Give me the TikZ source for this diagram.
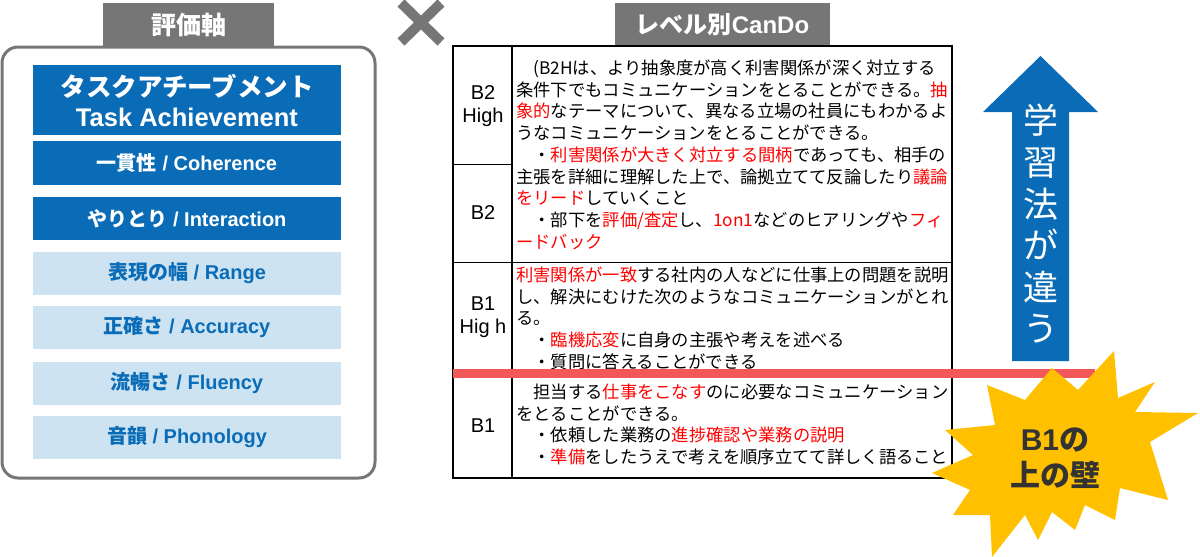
\documentclass[tikz,border=0pt]{standalone}
\usepackage{fontspec}
\setmainfont{Liberation Sans}
\newfontfamily\jp{Noto Sans CJK JP}

\definecolor{hdrgray}{RGB}{118,118,118}
\definecolor{axisblue}{RGB}{10,108,182}
\definecolor{axislight}{RGB}{205,227,242}
\definecolor{wallred}{RGB}{242,88,90}
\definecolor{burstyellow}{RGB}{255,192,0}
\definecolor{walltext}{RGB}{51,51,51}
\newcommand{\hl}[1]{\textcolor{red}{#1}}

\begin{document}
\begin{tikzpicture}[x=1pt,y=-1pt,
    header/.style={fill=hdrgray,text=white,inner sep=0,minimum height=44pt},
    axisdark/.style={fill=axisblue,text=white,font=\bfseries\fontsize{20}{24}\selectfont,minimum width=308pt,inner sep=0},
    axislite/.style={axisdark,fill=axislight,text=axisblue},
    level/.style={font=\fontsize{20}{23}\selectfont,align=center,inner sep=0},
    cando/.style={font=\jp\fontsize{17.3}{21.7}\selectfont,text width=445pt,align=left,inner sep=0,anchor=base west}]
        	\useasboundingbox (0,0) rectangle (1200,557);
        	% Evaluation axes:
        	\draw[hdrgray,line width=3pt,rounded corners=16pt] (2,47) rectangle (375,478);
        	\node[header,minimum width=171pt,font=\jp\bfseries\fontsize{25}{30}\selectfont] (axishdr) at (188.5,25) {評価軸};
        	\node[axisdark,minimum height=70pt,font=\bfseries\fontsize{25.5}{30}\selectfont,align=center] (task) at (187,100) {{\jp タスクアチーブメント}\\Task Achievement};
        	\node[axisdark,minimum height=44pt] (coherence) at (187,163) {{\jp 一貫性} / Coherence};
        	\node[axisdark,minimum height=43pt] (interaction) at (187,218.5) {{\jp やりとり} / Interaction};
        	\foreach \y/\jtxt/\etxt/\nm in {273.5/表現の幅/Range/range, 327.5/正確さ/Accuracy/accuracy, 383/流暢さ/Fluency/fluency, 437/音韻/Phonology/phonology}
        		\node[axislite,minimum height=43pt] (\nm) at (187,\y) {{\jp \jtxt} / \etxt};
        	\draw[hdrgray,line width=10pt] (401,3) -- (441,42) (441,3) -- (401,42);
        	% CanDo table:
        	\node[header,minimum width=215pt,minimum height=43pt,font=\bfseries\fontsize{24}{28}\selectfont] (candohdr) at (722.5,24.5) {{\jp レベル別}CanDo};
        	\draw[line width=1.3pt] (453,46) rectangle (952,478);
        	\draw[line width=1.3pt] (512,46) -- (512,478);
        	\draw[line width=1pt] (453,164) -- (512,164);
        	\draw[line width=1pt] (453,262) -- (952,262);
        	\draw[line width=1pt] (453,373) -- (952,373);
        	\node[level] (b2h) at (483,106) {B2\\High};
        	\node[level] (b2) at (483,213) {B2};
        	\node[level] (b1h) at (483,317) {B1\\Hig h};
        	\node[level] (b1) at (483,426) {B1};
        	\node[cando] (b2text) at (516,74.5) {　(B2Hは、より抽象度が高く利害関係が深く対立する\\
        		条件下でもコミュニケーションをとることができる。\hl{抽}\\
        		\hl{象的}なテーマについて、異なる立場の社員にもわかるよ\\
        		うなコミュニケーションをとることができる。\\
        		　・\hl{利害関係が大きく対立する間柄}であっても、相手の\\
        		主張を詳細に理解した上で、論拠立てて反論したり\hl{議論}\\
        		\hl{をリード}していくこと\\
        		　・部下を\hl{評価/査定}し、\hl{1on1}などのヒアリングや\hl{フィ}\\
        		\hl{ードバック}};
        	\node[cando] (b1htext) at (516,281.5) {\hl{利害関係が一致}する社内の人などに仕事上の問題を説明\\
        		し、解決にむけた次のようなコミュニケーションがとれ\\
        		る。\\
        		　・\hl{臨機応変}に自身の主張や考えを述べる\\
        		　・質問に答えることができる};
        	\node[cando] (b1text) at (516,398.5) {　担当する\hl{仕事をこなす}のに必要なコミュニケーション\\
        		をとることができる。\\
        		　・依頼した業務の\hl{進捗確認や業務の説明}\\
        		　・\hl{準備}をしたうえで考えを順序立てて詳しく語ること};
        	\draw[wallred,line width=9pt] (453,373.5) -- (1095,373.5);
        	% Arrow and wall:
        	\fill[axisblue] (1012,361) -- (1012,112) -- (983,112) -- (1040.5,56) -- (1098,112) -- (1069,112) -- (1069,361) -- cycle;
        	\node[text=white,font=\jp\fontsize{35}{41.6}\selectfont,align=center,inner sep=0] (learn) at (1040.5,224) {学\\習\\法\\が\\違\\う};
        	\fill[burstyellow] (1114,351) -- (1118,398) -- (1155,382) -- (1135,412) -- (1198,413) -- (1150,442) -- (1168,500) -- (1120,488) -- (1115,520) -- (1085,505) -- (1075,530) -- (1052,512) -- (1038,540) -- (1025,515) -- (992,557) -- (990,515) -- (953,515) -- (970,490) -- (932,473) -- (973,455) -- (945,430) -- (995,425) -- (987,385) -- (1025,400) -- (1052,368) -- (1078,390) -- cycle;
        	\node[text=walltext,font=\bfseries\fontsize{30}{36}\selectfont,align=center,inner sep=0] (wall) at (1055,458) {B1{\jp の}\\{\jp 上の壁}};
        \end{tikzpicture}
\end{document}
